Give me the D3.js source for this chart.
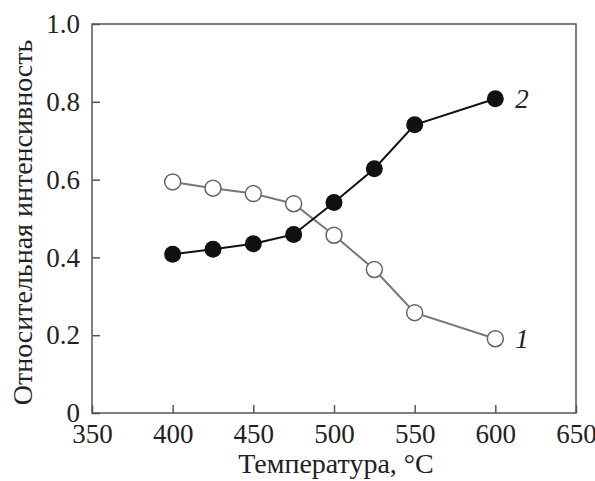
<!DOCTYPE html>
<meta charset="utf-8">
<style>
body { margin: 0; background: #fff; }
svg text { font-family: "Liberation Serif", "Times New Roman", "DejaVu Serif", serif; fill: #222; }
.axis text { font-size: 27px; }
.axis path, .axis line { stroke: #555; stroke-width: 1.5px; }
</style>
<svg width="595" height="481"></svg>
<script src="https://d3js.org/d3.v7.min.js"></script>
<script>

var temps = [400, 425, 450, 475, 500, 525, 550, 600];
var series1 = [0.594, 0.578, 0.564, 0.538, 0.457, 0.369, 0.258, 0.191];
var series2 = [0.408, 0.421, 0.435, 0.459, 0.541, 0.628, 0.741, 0.808];
var xTicks = [350, 400, 450, 500, 550, 600, 650];
var yTicks = [0, 0.2, 0.4, 0.6, 0.8, 1.0];

var svg = d3.select("svg"),
    plotL = 92, plotR = 576, plotT = 24, plotB = 413;

var x = d3.scaleLinear().domain([350, 650]).range([plotL, plotR]);
var y = d3.scaleLinear().domain([0, 1]).range([plotB, plotT]);

// frame
svg.append("rect")
    .attr("x", plotL).attr("y", plotT)
    .attr("width", plotR - plotL).attr("height", plotB - plotT)
    .attr("fill", "none").attr("stroke", "#555").attr("stroke-width", 1.5);

var xAxis = svg.append("g")
    .attr("class", "axis")
    .attr("transform", "translate(0," + plotB + ")")
    .call(d3.axisBottom(x).tickValues(xTicks).tickSizeInner(-8).tickSizeOuter(0).tickPadding(11));
xAxis.select(".domain").remove();

var yAxis = svg.append("g")
    .attr("class", "axis")
    .attr("transform", "translate(" + plotL + ",0)")
    .call(d3.axisLeft(y).tickValues(yTicks).tickSizeInner(-8).tickSizeOuter(0).tickPadding(12)
      .tickFormat(function(d) { return d === 0 ? "0" : d3.format(".1f")(d); }));
yAxis.select(".domain").remove();

svg.selectAll(".axis").attr("font-family", null).attr("font-size", null);

svg.append("text")
    .attr("x", (plotL + plotR) / 2 + 2).attr("y", 473)
    .attr("text-anchor", "middle")
    .style("font-size", "28px")
    .text("Температура, °C");

svg.append("text")
    .attr("transform", "translate(32," + ((plotT + plotB) / 2 + 4) + ") rotate(-90)")
    .attr("text-anchor", "middle")
    .style("font-size", "28px")
    .text("Относительная интенсивность");

var line = d3.line()
    .x(function(d, i) { return x(temps[i]); })
    .y(function(d) { return y(d); });

svg.append("path")
    .datum(series1)
    .attr("d", line)
    .attr("fill", "none").attr("stroke", "#777").attr("stroke-width", 2);

svg.append("path")
    .datum(series2)
    .attr("d", line)
    .attr("fill", "none").attr("stroke", "#111").attr("stroke-width", 2);

svg.append("g").selectAll("circle")
    .data(series1)
    .enter().append("circle")
    .attr("cx", function(d, i) { return x(temps[i]); })
    .attr("cy", function(d) { return y(d); })
    .attr("r", 8)
    .attr("fill", "#fff").attr("stroke", "#666").attr("stroke-width", 1.5);

svg.append("g").selectAll("circle")
    .data(series2)
    .enter().append("circle")
    .attr("cx", function(d, i) { return x(temps[i]); })
    .attr("cy", function(d) { return y(d); })
    .attr("r", 8.5)
    .attr("fill", "#111");

svg.append("text")
    .attr("x", x(600) + 20).attr("y", y(series2[7]) + 9)
    .style("font-size", "27px").style("font-style", "italic")
    .text("2");

svg.append("text")
    .attr("x", x(600) + 20).attr("y", y(series1[7]) + 9)
    .style("font-size", "27px").style("font-style", "italic")
    .text("1");

</script>
